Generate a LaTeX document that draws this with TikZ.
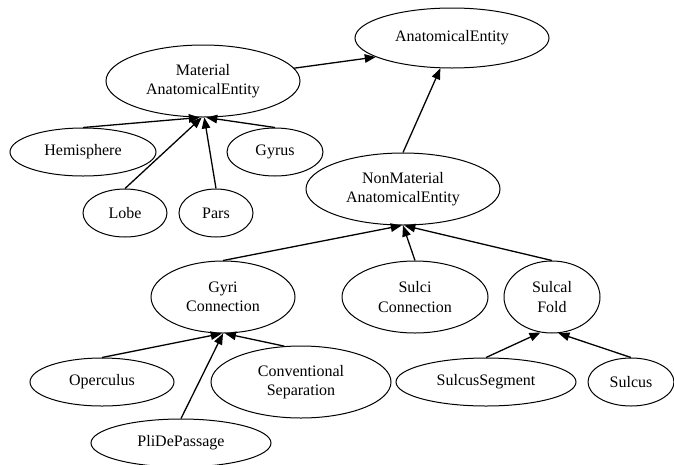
\documentclass[tikz,border=0pt]{standalone}
\usepackage{fontspec}
\setmainfont{Liberation Serif}
\usetikzlibrary{shapes.geometric,arrows.meta}
\begin{document}
\begin{tikzpicture}[x=1pt,y=-1pt,
  ent/.style={draw,ellipse,line width=1pt,inner sep=0pt,align=center,
    font=\fontsize{16}{19.5}\selectfont},
  isa/.style={line width=1.3pt,-{Triangle[length=11pt,width=8.5pt]}}]
\useasboundingbox (0,0) rectangle (674,464);
\node[ent,minimum width=194,minimum height=60] (ae) at (452,38) {AnatomicalEntity};
\node[ent,minimum width=194,minimum height=72] (mae) at (203,81) {Material\\AnatomicalEntity};
\node[ent,minimum width=146,minimum height=48] (hemi) at (83,152) {Hemisphere};
\node[ent,minimum width=96,minimum height=48] (gyrus) at (275,152) {Gyrus};
\node[ent,minimum width=84,minimum height=48] (lobe) at (125,213) {Lobe};
\node[ent,minimum width=74,minimum height=48] (pars) at (216,213) {Pars};
\node[ent,minimum width=194,minimum height=72] (nmae) at (403,189) {NonMaterial\\AnatomicalEntity};
\node[ent,minimum width=144,minimum height=72] (gyri) at (223,297) {Gyri\\Connection};
\node[ent,minimum width=146,minimum height=72] (sulci) at (415,297) {Sulci\\Connection};
\node[ent,minimum width=96,minimum height=72] (sfold) at (552,297) {Sulcal\\Fold};
\node[ent,minimum width=144,minimum height=48] (operc) at (102,382) {Operculus};
\node[ent,minimum width=180,minimum height=72] (consep) at (301,382) {Conventional\\Separation};
\node[ent,minimum width=180,minimum height=48] (pli) at (181,443) {PliDePassage};
\node[ent,minimum width=180,minimum height=48] (sseg) at (486,382) {SulcusSegment};
\node[ent,minimum width=86,minimum height=48] (sulcus) at (631,382) {Sulcus};
\draw[isa] (mae.8) -- (ae.194);
\draw[isa] (nmae.north) -- (ae.249);
\draw[isa] (hemi.north) -- (mae.265);
\draw[isa] (lobe.north) -- (mae.268);
\draw[isa] (pars.north) -- (mae.272);
\draw[isa] (gyrus.north) -- (mae.275);
\draw[isa] (gyri.north) -- (nmae.268);
\draw[isa] (sulci.north) -- (nmae.south);
\draw[isa] (sfold.north) -- (nmae.272);
\draw[isa] (operc.north) -- (gyri.268);
\draw[isa] (pli.north) -- (gyri.south);
\draw[isa] (consep.115) -- (gyri.273);
\draw[isa] (sseg.north) -- (sfold.252);
\draw[isa] (sulcus.north) -- (sfold.280);
\end{tikzpicture}
\end{document}
